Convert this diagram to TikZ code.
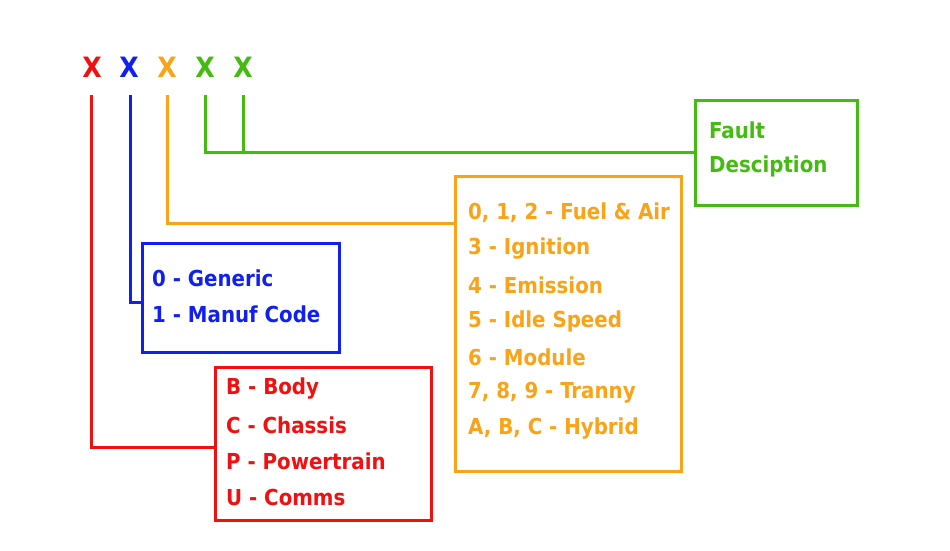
\documentclass[tikz,border=0pt]{standalone}
\usepackage{fontspec}
\setmainfont{DejaVu Sans Condensed}[BoldFont={DejaVu Sans Condensed Bold}]
\definecolor{cred}{HTML}{F01010}
\definecolor{cblue}{HTML}{1020F0}
\definecolor{corange}{HTML}{F8A318}
\definecolor{cgreen}{HTML}{44BB10}
\tikzset{
  wire/.style={line width=3pt},
  codebox/.style={line width=3pt},
  letter/.style={font=\fontsize{28}{30}\selectfont\bfseries},
  entry/.style={anchor=west,font=\fontsize{22}{24}\selectfont\bfseries,inner sep=0pt}
}
\begin{document}
\begin{tikzpicture}[x=1pt,y=-1pt]
  \useasboundingbox (0,0) rectangle (950,550);
  % code letters
  \node[letter,color=cred] (l1) at (92,67) {X};
  \node[letter,color=cblue] (l2) at (129,67) {X};
  \node[letter,color=corange] (l3) at (167,67) {X};
  \node[letter,color=cgreen] (l4) at (205,67) {X};
  \node[letter,color=cgreen] (l5) at (243,67) {X};
  % boxes
  \draw[codebox,cred] (215,367) rectangle (431,520);
  \draw[codebox,cblue] (142,243) rectangle (339,352);
  \draw[codebox,corange] (455,176) rectangle (681,471);
  \draw[codebox,cgreen] (695,100) rectangle (857,205);
  % connectors
  \draw[wire,cred] (91,95) |- (215,447);
  \draw[wire,cblue] (130,95) |- (142,302);
  \draw[wire,corange] (167,95) |- (455,223);
  \draw[wire,cgreen] (205,95) |- (695,152);
  \draw[wire,cgreen] (243,95) -- (243,152);
  % texts
  \node[entry,color=cred] (b1) at (226,389) {B - Body};
  \node[entry,color=cred] (b2) at (226,425) {C - Chassis};
  \node[entry,color=cred] (b3) at (226,461) {P - Powertrain};
  \node[entry,color=cred] (b4) at (226,497) {U - Comms};
  \node[entry,color=cblue] (g1) at (152,278) {0 - Generic};
  \node[entry,color=cblue] (g2) at (152,314) {1 - Manuf Code};
  \node[entry,color=corange] (s1) at (468,213) {0, 1, 2 - Fuel \& Air};
  \node[entry,color=corange] (s2) at (468,249) {3 - Ignition};
  \node[entry,color=corange] (s3) at (468,285) {4 - Emission};
  \node[entry,color=corange] (s4) at (468,321) {5 - Idle Speed};
  \node[entry,color=corange] (s5) at (468,357) {6 - Module};
  \node[entry,color=corange] (s6) at (468,393) {7, 8, 9 - Tranny};
  \node[entry,color=corange] (s7) at (468,429) {A, B, C - Hybrid};
  \node[entry,color=cgreen] (f1) at (709,130) {Fault};
  \node[entry,color=cgreen] (f2) at (709,166) {Desciption};
\end{tikzpicture}
\end{document}
